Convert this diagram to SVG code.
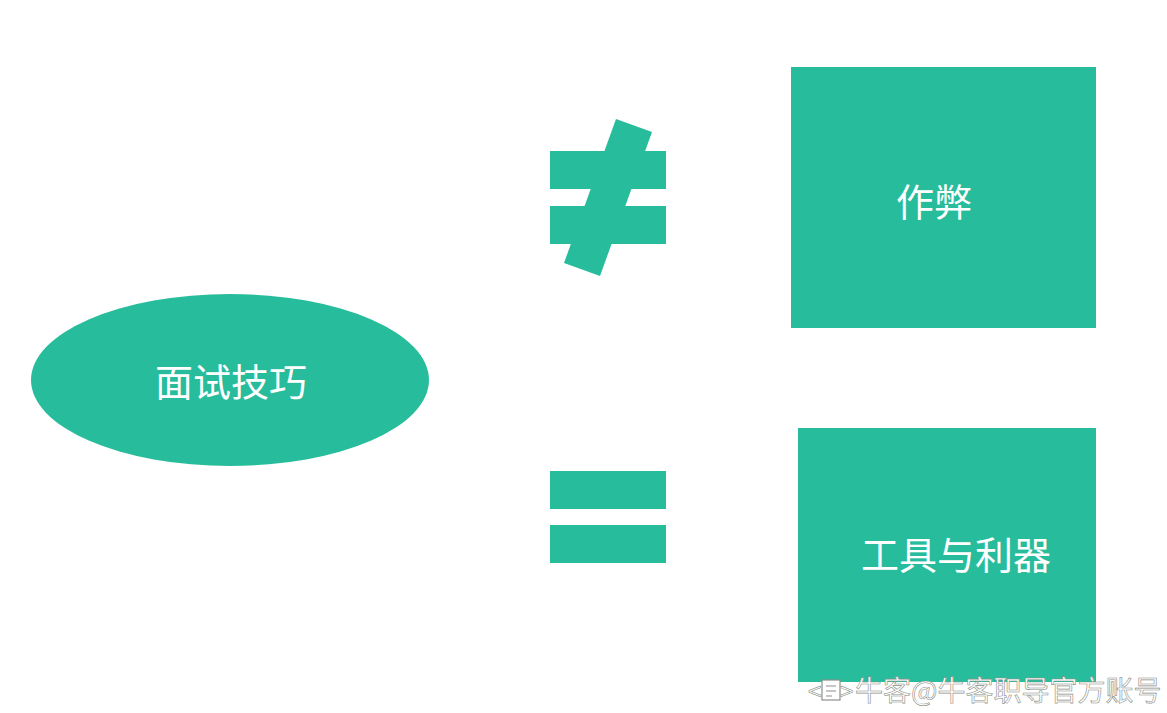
<svg xmlns="http://www.w3.org/2000/svg" width="1167" height="713" viewBox="0 0 1167 713">
<style>
.f{fill:#27bc9c}
.t{fill:#ffffff;font-family:"Noto Sans CJK SC","Noto Sans",sans-serif;font-size:38px;text-anchor:middle;dominant-baseline:central}
.w{fill:#ffffff;font-family:"Noto Sans CJK SC","Noto Sans",sans-serif;font-size:28px;stroke:#8a9088;stroke-width:0.6}
</style>
<rect width="1167" height="713" fill="#ffffff"/>
<g id="node-interview">
<ellipse class="f" cx="230" cy="380" rx="199" ry="86"/>
<text class="t" x="231" y="379">面试技巧</text>
</g>
<g id="node-cheat">
<rect class="f" x="791" y="67" width="305" height="261"/>
<text class="t" x="934" y="199">作弊</text>
</g>
<g id="node-tools">
<rect class="f" x="798" y="428" width="298" height="254"/>
<text class="t" x="956" y="552">工具与利器</text>
</g>
<g id="connectors">
<g id="not-equal">
<rect class="f" x="550" y="151" width="116" height="38"/>
<rect class="f" x="550" y="206" width="116" height="38"/>
<polygon class="f" points="616,119 652,132 600,276 564,263"/>
</g>
<g id="equal">
<rect class="f" x="550" y="471" width="116" height="38"/>
<rect class="f" x="550" y="525" width="116" height="38"/>
</g>
</g>
<g id="watermark">
<text class="w" x="808" y="700" style="font-size:24px">&lt;</text>
<rect x="822" y="680" width="18" height="20" fill="#ffffff" stroke="#8a9088" stroke-width="1.2"/>
<path d="M826 686h10M826 691h10M826 696h6" stroke="#8a9088" stroke-width="1.2" fill="none"/>
<text class="w" x="840" y="700" style="font-size:24px">&gt;</text>
<text class="w" x="855" y="701">牛客@牛客职导官方账号</text>
</g>
</svg>
